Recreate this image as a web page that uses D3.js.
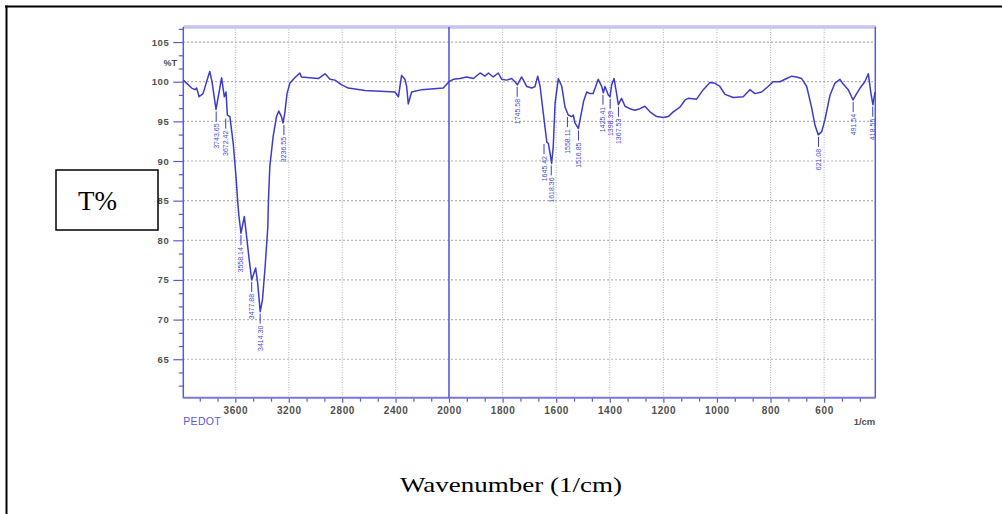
<!DOCTYPE html>
<html>
<head>
<meta charset="utf-8">
<script src="https://cdn.jsdelivr.net/npm/d3@7"></script>
<style>
  html, body { margin: 0; padding: 0; background: #fff; }
  svg { display: block; }
</style>
</head>
<body>
<script>
// ---- data ----
const wavenumbers = [3990,3952,3927,3902,3890,3878,3872,3842,3792,3775,3745,3703,3683,3670,3660,3641,3616,3595,3583,3573,3558,3533,3516,3496,3478,3448,3433,3414,3397,3377,3357,3352,3342,3317,3292,3275,3255,3243,3230,3213,3192,3155,3117,3105,3042,2979,2929,2891,2854,2804,2754,2629,2404,2379,2355,2330,2317,2305,2280,2205,2043,2000,
1984,1959,1934,1909,1884,1866,1853,1835,1816,1803,1785,1766,1754,1745,1729,1710,1691,1679,1669,1660,1648,1635,1629,1623,1617,1611,1604,1592,1579,1567,1555,1542,1536,1530,1517,1498,1486,1474,1462,1443,1430,1424,1418,1405,1399,1393,1384,1377,1368,1356,1343,1325,1306,1287,1269,1250,1225,1200,1182,1163,1138,1119,1107,1076,1051,1026,1007,989,970,939,902,877,858,833,809,790,765,740,721,703,684,665,647,634,622,609,597,578,560,541,529,510,492,482,466,448,435,426,418,410];
const transmittance = [100.2,99.6,99.2,99.0,99.2,98.5,98.1,98.5,101.3,100.0,96.5,100.5,98.1,98.7,95.8,95.6,92.2,88.0,85.0,83.0,80.9,83.0,80.5,77.5,75.0,76.5,74.6,71.0,72.5,76.7,81.7,85.1,89.3,93.1,95.6,96.3,95.6,94.8,96.0,98.5,99.8,100.5,101.1,100.6,100.5,100.4,101.0,100.3,100.2,99.6,99.2,98.9,98.7,98.1,100.8,100.3,99.4,97.2,98.7,99.0,99.2,100.0,
100.3,100.4,100.6,100.4,101.1,100.7,101.1,100.6,101.1,100.3,100.2,100.4,100.0,99.6,100.6,99.4,99.2,99.4,100.7,99.4,96.0,92.4,92.2,91.0,89.7,91.8,97.3,100.4,99.4,96.8,95.8,95.6,95.8,94.8,94.1,97.5,98.7,98.5,98.5,100.3,99.4,98.6,99.4,98.3,98.1,99.6,100.4,99.0,97.1,97.9,96.9,96.6,96.4,96.6,96.9,96.2,95.6,95.5,95.6,96.2,96.8,97.7,97.9,97.8,99.0,99.9,99.8,99.4,98.4,98.0,98.1,99.0,98.5,98.7,99.4,100.0,100.0,100.4,100.7,100.6,100.4,99.4,96.8,94.5,93.3,93.7,95.2,98.3,99.8,100.3,99.7,99.0,97.7,98.3,99.2,100.0,101.0,98.7,97.1,98.7];

const peakWavenumbers = [3743.65,3672.42,3558.14,3477.88,3414.30,3236.55,1745.58,1645.42,1618.36,1558.11,1516.85,1425.41,1398.39,1367.53,621.08,491.54,418.55];
const peakLabels = ["3743.65","3672.42","3558.14","3477.88","3414.30","3236.55","1745.58","1645.42","1618.36","1558.11","1516.85","1425.41","1398.39","1367.53","621.08","491.54","418.55"];
const peakT = [96.5,95.6,80.9,75.0,71.0,94.8,99.6,92.4,89.7,95.8,94.1,98.6,98.1,97.1,93.3,97.7,97.1];

const xMajorTicks = [3600,3200,2800,2400,2000,1800,1600,1400,1200,1000,800,600];
const xMajorLabels = ["3600","3200","2800","2400","2000","1800","1600","1400","1200","1000","800","600"];
const xMinorTicks = [3866.67,3733.33,3466.67,3333.33,3066.67,2933.33,2666.67,2533.33,2266.67,2133.33,
  1933.33,1866.67,1733.33,1666.67,1533.33,1466.67,1333.33,1266.67,1133.33,1066.67,933.33,866.67,733.33,666.67,533.33,466.67];
const yMajorTicks = [65,70,75,80,85,90,95,100,105];
const yMajorLabels = ["65","70","75","80","85","90","95","100","105"];

// ---- layout ----
const W = 1002, H = 514;
const svg = d3.select("body").append("svg").attr("width", W).attr("height", H);

const pLeft = 183.3, pRight = 875.3, pTop = 27, pBottom = 397.7;
const x = d3.scaleLinear().domain([3990, 2000, 409]).range([pLeft, 449, pRight]);
const y = d3.scaleLinear().domain([60.15, 106.9]).range([pBottom, pTop]);

const blue = "#3c3cc8";
const axisBlue = "#5a5ad8";

// outer frame
svg.append("line").attr("x1", 5).attr("x2", W).attr("y1", 6.5).attr("y2", 6.5).attr("stroke", "#000").attr("stroke-width", 2);
svg.append("line").attr("x1", 6.5).attr("x2", 6.5).attr("y1", 5.5).attr("y2", H).attr("stroke", "#000").attr("stroke-width", 2);

// gridlines
const g = svg.append("g");
g.selectAll("line.hgrid").data(yMajorTicks).join("line")
  .attr("x1", pLeft).attr("x2", pRight)
  .attr("y1", d => y(d)).attr("y2", d => y(d))
  .attr("stroke", "#9a9a9a").attr("stroke-width", 1.2).attr("stroke-dasharray", "1.5,2.5");
g.selectAll("line.vgrid").data(xMajorTicks.filter(d => d !== 2000)).join("line")
  .attr("x1", d => x(d)).attr("x2", d => x(d))
  .attr("y1", pTop).attr("y2", pBottom)
  .attr("stroke", "#a8a8a8").attr("stroke-width", 0.9).attr("stroke-dasharray", "1,1.5");

// x axes
const xAxisMajor = d3.axisBottom(x).tickValues(xMajorTicks).tickFormat((d, i) => xMajorLabels[i]).tickSize(5).tickPadding(4);
const xAxisMinor = d3.axisBottom(x).tickValues(xMinorTicks).tickFormat("").tickSize(4);
const gx = svg.append("g").attr("transform", `translate(0,${pBottom})`).call(xAxisMajor);
const gx2 = svg.append("g").attr("transform", `translate(0,${pBottom})`).call(xAxisMinor);
[gx, gx2].forEach(a => {
  a.select(".domain").remove();
  a.selectAll(".tick line").attr("stroke", axisBlue).attr("stroke-width", 1.2);
});
gx.selectAll(".tick text").attr("fill", "#505050").attr("font-family", "Liberation Sans, Arial, sans-serif")
  .attr("font-size", 10).attr("font-weight", "bold").attr("letter-spacing", 0.6);

// y axes
const yMinor = d3.range(61.6667, 107, 5/3).filter(v => Math.abs(v/5 - Math.round(v/5)) > 0.01);
const yAxisMajor = d3.axisLeft(y).tickValues(yMajorTicks).tickFormat((d, i) => yMajorLabels[i]).tickSize(10).tickPadding(4);
const yAxisMinor = d3.axisLeft(y).tickValues(yMinor).tickFormat("").tickSize(4.5);
const gy = svg.append("g").attr("transform", `translate(${pLeft},0)`).call(yAxisMajor);
const gy2 = svg.append("g").attr("transform", `translate(${pLeft},0)`).call(yAxisMinor);
[gy, gy2].forEach(a => {
  a.select(".domain").remove();
  a.selectAll(".tick line").attr("stroke", axisBlue).attr("stroke-width", 1.2);
});
gy.selectAll(".tick text").attr("fill", "#505050").attr("font-family", "Liberation Sans, Arial, sans-serif")
  .attr("font-size", 9.5).attr("font-weight", "bold").attr("letter-spacing", 0.6);

// frame lines
svg.append("line").attr("x1", pLeft).attr("x2", pRight + 1).attr("y1", pTop).attr("y2", pTop)
  .attr("stroke", "#c4c4f0").attr("stroke-width", 3.5);
svg.append("line").attr("x1", pLeft).attr("x2", pLeft).attr("y1", pTop).attr("y2", pBottom + 0.5)
  .attr("stroke", axisBlue).attr("stroke-width", 1.5);
svg.append("line").attr("x1", pRight).attr("x2", pRight).attr("y1", pTop).attr("y2", pBottom + 0.5)
  .attr("stroke", axisBlue).attr("stroke-width", 1.5);
svg.append("line").attr("x1", pLeft).attr("x2", pRight).attr("y1", pBottom).attr("y2", pBottom)
  .attr("stroke", "#7777dd").attr("stroke-width", 2);
svg.append("line").attr("x1", x(2000)).attr("x2", x(2000)).attr("y1", pTop).attr("y2", pBottom)
  .attr("stroke", axisBlue).attr("stroke-width", 1.6);

// %T label
svg.append("text").attr("x", 177).attr("y", 66).attr("text-anchor", "end")
  .attr("font-family", "Liberation Sans, Arial, sans-serif").attr("font-size", 9).attr("font-weight", "bold")
  .attr("fill", "#505050").text("%T");
svg.append("text").attr("x", pLeft).attr("y", 425)
  .attr("font-family", "Liberation Sans, Arial, sans-serif").attr("font-size", 10.5)
  .attr("fill", "#5a5ad8").attr("letter-spacing", 0.3).text("PEDOT");
svg.append("text").attr("x", pRight).attr("y", 425).attr("text-anchor", "end")
  .attr("font-family", "Liberation Sans, Arial, sans-serif").attr("font-size", 9.5)
  .attr("fill", "#505050").attr("font-weight", "bold").text("1/cm");

// spectrum
const pts = wavenumbers.map((w, i) => [w, transmittance[i]]);
const line = d3.line().x(d => x(d[0])).y(d => y(d[1]));
svg.append("path").datum(pts).attr("d", line).attr("fill", "none")
  .attr("stroke", blue).attr("stroke-width", 1.5).attr("stroke-linejoin", "round");

// peak labels
const pk = svg.append("g");
peakWavenumbers.forEach((w, i) => {
  const px = x(w), py = y(peakT[i]);
  pk.append("line").attr("x1", px).attr("x2", px).attr("y1", py + 2).attr("y2", py + 12)
    .attr("stroke", blue).attr("stroke-width", 1);
  pk.append("text").attr("transform", `translate(${px},${py + 14}) rotate(-90)`)
    .attr("text-anchor", "end").attr("dominant-baseline", "central")
    .attr("font-family", "Liberation Sans, Arial, sans-serif").attr("font-size", 7)
    .attr("fill", "#4a4ad0").text(peakLabels[i]);
});

// T% box
svg.append("rect").attr("x", 56).attr("y", 170).attr("width", 102).attr("height", 60)
  .attr("fill", "#fff").attr("stroke", "#000").attr("stroke-width", 1.5);
svg.append("text").attr("x", 78).attr("y", 210)
  .attr("font-family", "Liberation Serif, Times New Roman, serif").attr("font-size", 27)
  .attr("fill", "#000").text("T%");

// x-axis title
svg.append("text").attr("x", 511).attr("y", 492).attr("text-anchor", "middle")
  .attr("font-family", "Liberation Serif, Times New Roman, serif").attr("font-size", 22)
  .attr("textLength", 222).attr("lengthAdjust", "spacingAndGlyphs")
  .attr("fill", "#000").text("Wavenumber (1/cm)");
</script>
</body>
</html>
